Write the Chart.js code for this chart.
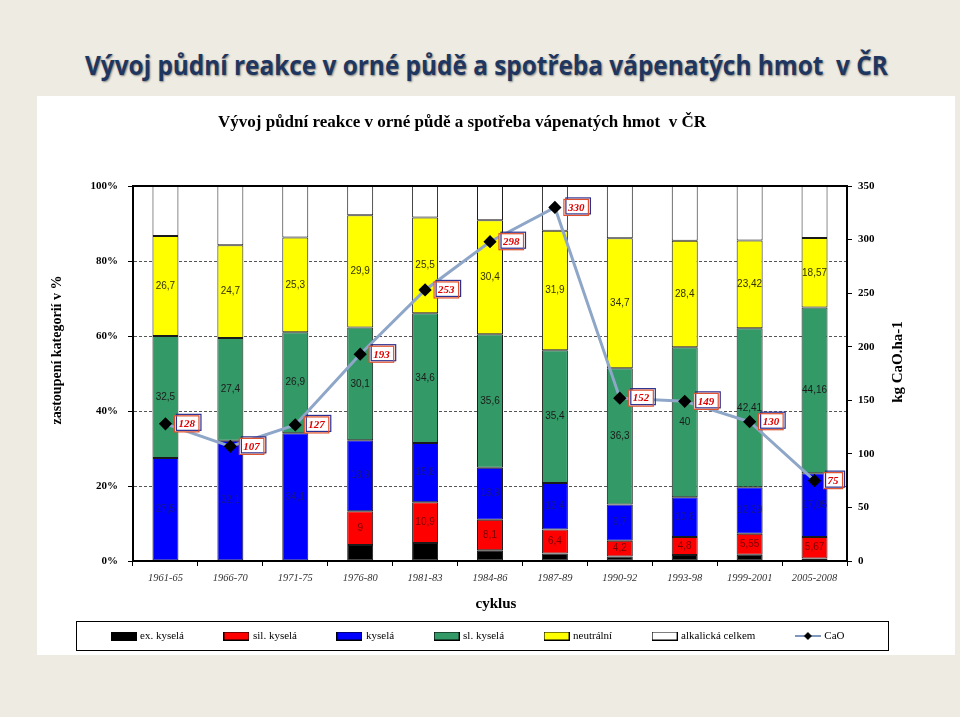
<!DOCTYPE html>
<html><head><meta charset="utf-8">
<script src="https://cdn.jsdelivr.net/npm/chart.js@4"></script>
<style>
html,body{margin:0;padding:0;background:#eeebe2;width:960px;height:717px;overflow:hidden;}
#hdr{position:absolute;left:85px;top:52px;white-space:nowrap;font-family:'Open Sans',sans-serif;font-weight:700;font-size:26px;line-height:1;color:#1f3760;text-shadow:1px 1px 2px rgba(0,0,0,0.45);transform-origin:0 0;}
#panel{position:absolute;left:37px;top:96px;width:918px;height:559px;background:#fff;}
#wrap{position:absolute;left:37px;top:96px;width:883px;height:559px;}
</style></head>
<body>
<div id="hdr">Vývoj půdní reakce v orné půdě a spotřeba vápenatých hmot&nbsp; v ČR</div>
<div id="panel"></div>
<div id="wrap"><canvas id="c"></canvas></div>
<script>
const categories = ['1961-65','1966-70','1971-75','1976-80','1981-83','1984-86','1987-89','1990-92','1993-98','1999-2001','2005-2008'];
const exKysela  = [0, 0, 0, 4.3, 4.8, 2.9, 2.0, 1.2, 1.6, 1.7, 0.7];
const silKysela = [0, 0, 0, 9, 10.9, 8.1, 6.4, 4.2, 4.8, 5.55, 5.67];
const kysela    = [27.5, 32.1, 34.1, 18.9, 15.8, 13.9, 12.4, 9.7, 10.6, 12.39, 17.05];
const slKysela  = [32.5, 27.4, 26.9, 30.1, 34.6, 35.6, 35.4, 36.3, 40, 42.41, 44.16];
const neutralni = [26.7, 24.7, 25.3, 29.9, 25.5, 30.4, 31.9, 34.7, 28.4, 23.42, 18.57];
const alkalicka = [13.3, 15.8, 13.7, 7.8, 8.4, 9.1, 11.9, 13.9, 14.6, 14.53, 13.85];
const cao       = [128, 107, 127, 193, 253, 298, 330, 152, 149, 130, 75];
const seriesNames = ['ex. kyselá','sil. kyselá','kyselá','sl. kyselá','neutrální','alkalická celkem','CaO'];
const seriesColors = ['#000000','#ff0000','#0000ff','#339966','#ffff00','#ffffff'];
const chartTitle = 'Vývoj půdní reakce v orné půdě a spotřeba vápenatých hmot  v ČR';
const leftTitle = 'zastoupení kategorií v %';
const rightTitle = 'kg CaO.ha-1';
const xTitle = 'cyklus';

// header fit
const hdr = document.getElementById('hdr');
hdr.style.transform = 'scaleX(' + (803 / hdr.offsetWidth) + ')';

const SERIF = '"Liberation Serif", "Times New Roman", serif';

function boxImg(color){
  const c = document.createElement('canvas'); c.width = 26; c.height = 9;
  const g = c.getContext('2d');
  g.fillStyle = color; g.fillRect(0.5,0.5,25,8);
  g.strokeStyle = '#000'; g.lineWidth = 1; g.strokeRect(0.5,0.5,25,8);
  return c;
}
function lineImg(){
  const c = document.createElement('canvas'); c.width = 26; c.height = 10;
  const g = c.getContext('2d');
  g.strokeStyle = '#7f97bd'; g.lineWidth = 2; g.beginPath(); g.moveTo(0,5); g.lineTo(26,5); g.stroke();
  g.fillStyle = '#000'; g.beginPath(); g.moveTo(13,1); g.lineTo(17,5); g.lineTo(13,9); g.lineTo(9,5); g.closePath(); g.fill();
  return c;
}
const legendImgs = seriesColors.map(boxImg).concat([lineImg()]);

const barSeries = [exKysela, silKysela, kysela, slKysela, neutralni, alkalicka];
const datasets = barSeries.map((d,i)=>({
  type:'bar', label:seriesNames[i], data:d, backgroundColor:seriesColors[i],
  borderColor:'#1a1a1a', borderWidth:c=>c.raw?1:0, borderSkipped:false,
  stack:'s', yAxisID:'y', barPercentage:0.4, categoryPercentage:1.0, order:1
}));
datasets.push({
  type:'line', label:seriesNames[6], data:cao, yAxisID:'y1', borderColor:'#8ea6c8', borderWidth:3,
  pointStyle:'rectRot', pointRadius:4.5, pointBackgroundColor:'#000', pointBorderColor:'#000', tension:0, order:0
});

const overlay = {
  id:'overlay',
  afterDatasetsDraw(chart){
    const ctx = chart.ctx, ca = chart.chartArea;
    ctx.save();
    ctx.strokeStyle = '#000'; ctx.lineWidth = 2;
    ctx.strokeRect(ca.left, ca.top, ca.right-ca.left, ca.bottom-ca.top);
    const sets = [{i:1,c:'#7a0000'},{i:2,c:'#16168a'},{i:3,c:'#1b1b1b'},{i:4,c:'#333300'}];
    ctx.font = '10px "Liberation Sans", Arial, sans-serif';
    ctx.textAlign = 'center'; ctx.textBaseline = 'middle';
    sets.forEach(s=>{
      const meta = chart.getDatasetMeta(s.i), d = chart.data.datasets[s.i].data;
      meta.data.forEach((el,j)=>{
        if(!d[j]) return;
        ctx.fillStyle = s.c;
        ctx.fillText(String(d[j]).replace('.',','), el.x, (el.y+el.base)/2);
      });
    });
    const lm = chart.getDatasetMeta(6);
    ctx.font = 'italic bold 11px ' + SERIF;
    ctx.textAlign = 'left';
    lm.data.forEach((el,j)=>{
      const t = String(cao[j]);
      const w = ctx.measureText(t).width + 8, h = 16;
      const x = el.x + 9, y = el.y - h/2;
      ctx.fillStyle = '#fff'; ctx.fillRect(x, y, w, h);
      ctx.lineWidth = 1.2;
      ctx.strokeStyle = '#2b2f8f'; ctx.strokeRect(x+2, y-1.5, w, h);
      ctx.strokeStyle = '#e0502a'; ctx.strokeRect(x, y, w, h);
      ctx.fillStyle = '#e00000'; ctx.fillText(t, x+4, y+h/2+0.5);
    });
    ctx.restore();
  },
  afterDraw(chart){
    const ctx = chart.ctx;
    ctx.save();
    ctx.fillStyle = '#000'; ctx.textAlign = 'center'; ctx.textBaseline = 'middle';
    ctx.font = 'bold 17px ' + SERIF;
    ctx.fillText(chartTitle, 425, 27);
    ctx.font = 'bold 15px ' + SERIF;
    ctx.fillText(xTitle, 459, 508);
    ctx.font = 'bold 14px ' + SERIF;
    ctx.save(); ctx.translate(20, 254); ctx.rotate(-Math.PI/2); ctx.fillText(leftTitle, 0, 0); ctx.restore();
    ctx.font = 'bold 15px ' + SERIF;
    ctx.save(); ctx.translate(861, 266); ctx.rotate(-Math.PI/2); ctx.fillText(rightTitle, 0, 0); ctx.restore();
    ctx.strokeStyle = '#000'; ctx.lineWidth = 1;
    ctx.strokeRect(39.5, 525.5, 812, 29);
    ctx.restore();
  }
};

new Chart(document.getElementById('c'), {
  data:{labels:categories, datasets},
  plugins:[overlay],
  options:{
    responsive:true, maintainAspectRatio:false, animation:false,
    layout:{padding:{top:90,bottom:3.5,left:0,right:0}},
    plugins:{
      title:{display:false}, tooltip:{enabled:false},
      legend:{position:'bottom', labels:{usePointStyle:true, pointStyleWidth:22, padding:41.5,
        font:{family:SERIF,size:11}, color:'#000',
        generateLabels(chart){
          const items = Chart.defaults.plugins.legend.labels.generateLabels(chart);
          items.sort((a,b)=>a.datasetIndex-b.datasetIndex);
          items.forEach(it=>{ it.pointStyle = legendImgs[it.datasetIndex]; it.rotation = 0; });
          return items;
        }}}
    },
    scales:{
      x:{stacked:true, offset:true,
        grid:{display:true, drawOnChartArea:false, drawTicks:true, tickLength:5, color:'#000', offset:true},
        border:{display:true, color:'#000', width:2},
        ticks:{font:{family:SERIF,size:10.5,style:'italic'}, color:'#333', padding:6, maxRotation:0, autoSkip:false},
        afterFit(s){ s.height = 28; }},
      y:{stacked:true, min:0, max:100, position:'left',
        ticks:{stepSize:20, callback:v=>v+'%', font:{family:SERIF,size:11,weight:'bold'}, color:'#000', padding:10},
        grid:{color:c=>(c.tick && c.tick.value>0 && c.tick.value<100)?'#555':'rgba(0,0,0,0)', tickColor:'#000', tickLength:5, lineWidth:1},
        border:{display:true, color:'#000', width:2, dash:[3,2]},
        afterFit(s){ s.width = 96; }},
      y1:{position:'right', min:0, max:350,
        ticks:{stepSize:50, font:{family:SERIF,size:11,weight:'bold'}, color:'#000', padding:6},
        grid:{drawOnChartArea:false, drawTicks:true, tickLength:5, color:'#000'},
        border:{display:true, color:'#000', width:2},
        afterFit(s){ s.width = 73; }}
    }
  }
});
</script>
</body></html>
